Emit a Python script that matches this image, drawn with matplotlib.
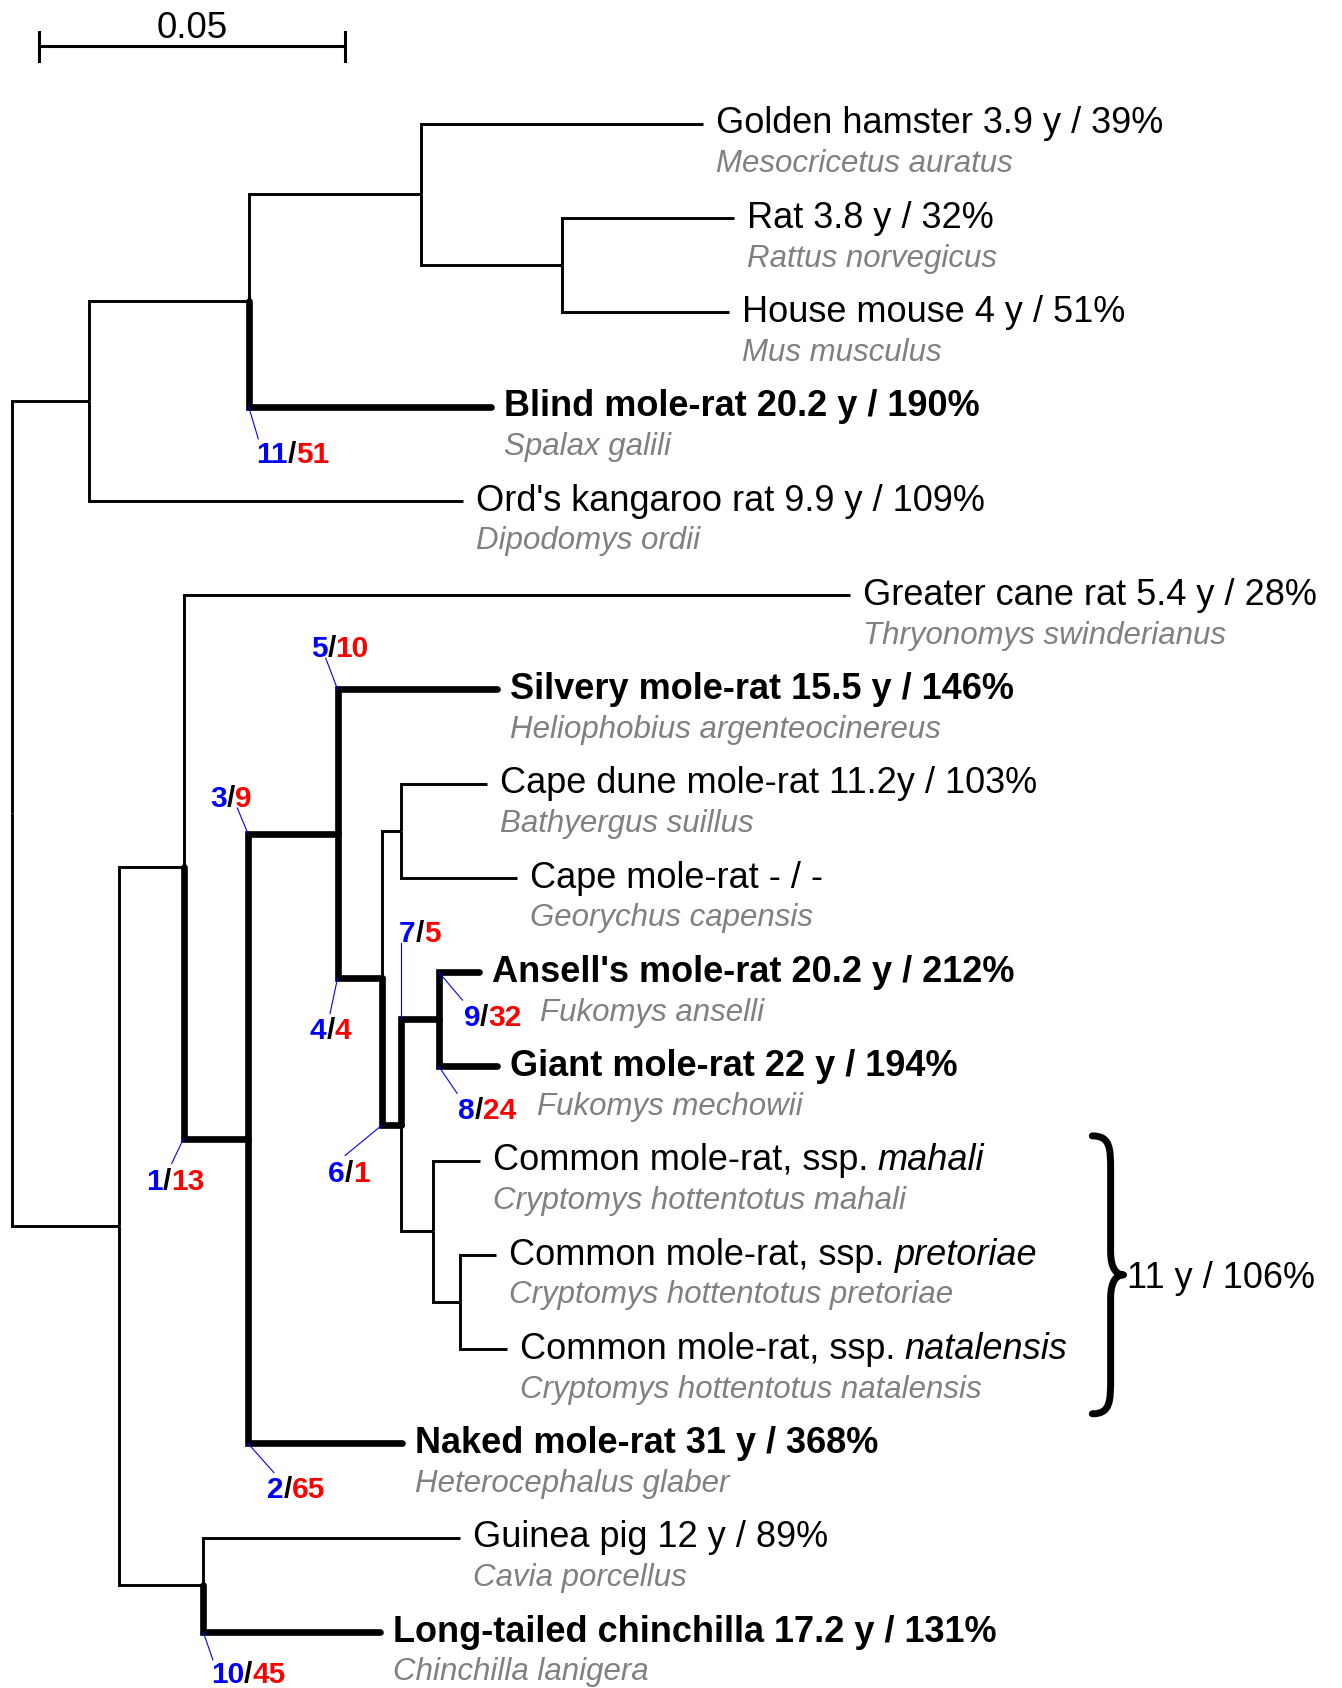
import matplotlib
matplotlib.use("Agg")
import matplotlib.pyplot as plt
from matplotlib.path import Path
from matplotlib.patches import PathPatch

plt.rcParams["font.family"] = ["Liberation Sans", "DejaVu Sans"]

# leaves, top to bottom
leaves = ["hamster", "rat", "mouse", "spalax", "dipodomys", "thryonomys",
          "heliophobius", "bathyergus", "georychus", "anselli", "mechowii",
          "mahali", "pretoriae", "natalensis", "heterocephalus", "cavia",
          "chinchilla"]
common = ["Golden hamster", "Rat", "House mouse", "Blind mole-rat",
          "Ord's kangaroo rat", "Greater cane rat", "Silvery mole-rat",
          "Cape dune mole-rat", "Cape mole-rat", "Ansell's mole-rat",
          "Giant mole-rat", "Common mole-rat, ssp.", "Common mole-rat, ssp.",
          "Common mole-rat, ssp.", "Naked mole-rat", "Guinea pig",
          "Long-tailed chinchilla"]
lifespan = ["3.9 y / 39%", "3.8 y / 32%", "4 y / 51%", "20.2 y / 190%",
            "9.9 y / 109%", "5.4 y / 28%", "15.5 y / 146%", "11.2y / 103%",
            "- / -", "20.2 y / 212%", "22 y / 194%", "", "", "",
            "31 y / 368%", "12 y / 89%", "17.2 y / 131%"]
latin = ["Mesocricetus auratus", "Rattus norvegicus", "Mus musculus",
         "Spalax galili", "Dipodomys ordii", "Thryonomys swinderianus",
         "Heliophobius argenteocinereus", "Bathyergus suillus",
         "Georychus capensis", "Fukomys anselli", "Fukomys mechowii",
         "Cryptomys hottentotus mahali", "Cryptomys hottentotus pretoriae",
         "Cryptomys hottentotus natalensis", "Heterocephalus glaber",
         "Cavia porcellus", "Chinchilla lanigera"]
ssp = {"mahali": "mahali", "pretoriae": "pretoriae", "natalensis": "natalensis"}
long_lived = ["spalax", "heliophobius", "anselli", "mechowii",
              "heterocephalus", "chinchilla"]

# tree: node -> parent, branch length (substitutions per site)
parent = {"A": "root", "B": "A", "C": "B", "hamster": "C", "D": "C",
          "rat": "D", "mouse": "D", "spalax": "B", "dipodomys": "A",
          "E": "root", "F": "E", "thryonomys": "F", "H": "F", "I": "H",
          "heliophobius": "I", "J": "I", "K": "J", "bathyergus": "K",
          "georychus": "K", "L": "J", "M": "L", "anselli": "M",
          "mechowii": "M", "N": "L", "mahali": "N", "O": "N",
          "pretoriae": "O", "natalensis": "O", "heterocephalus": "H",
          "G": "E", "cavia": "G", "chinchilla": "G"}
blen = {"A": 0.0125, "B": 0.0261, "C": 0.0281, "hamster": 0.0460,
        "D": 0.0230, "rat": 0.0281, "mouse": 0.0272, "spalax": 0.0395,
        "dipodomys": 0.0611, "E": 0.0175, "F": 0.0105, "thryonomys": 0.1086,
        "H": 0.0105, "I": 0.0146, "heliophobius": 0.0260, "J": 0.0072,
        "K": 0.0032, "bathyergus": 0.0139, "georychus": 0.0189, "L": 0.0032,
        "M": 0.0061, "anselli": 0.0065, "mechowii": 0.0095, "N": 0.0051,
        "mahali": 0.0077, "O": 0.0044, "pretoriae": 0.0060,
        "natalensis": 0.0077, "heterocephalus": 0.0251, "G": 0.0137,
        "cavia": 0.0418, "chinchilla": 0.0288}

# long-lived lineages (thick) and their blue / red counts
thick = long_lived + ["H", "I", "J", "L", "M"]
counts = {"spalax": (11, 51), "heliophobius": (5, 10), "I": (3, 9),
          "J": (4, 4), "M": (7, 5), "anselli": (9, 32), "mechowii": (8, 24),
          "L": (6, 1), "H": (1, 13), "heterocephalus": (2, 65),
          "chinchilla": (10, 45)}

group = ["mahali", "pretoriae", "natalensis"]
group_label = "11 y / 106%"
scale_len = 0.05

# layout: picture pixels per unit
PX = 5700.0
PY = 87.56
def dx(p):
    return p / PX
def dy(p):
    return p / PY

fig = plt.figure(figsize=(13.42, 16.88), dpi=100)
ax = fig.add_axes([0, 0, 1, 1])
ax.set_xlim(-11 / PX, 1236 / PX)
ax.set_ylim((1568 - 115) / PY, -115 / PY)
ax.axis("off")

children = {}
for n, p in parent.items():
    children.setdefault(p, []).append(n)

xpos = {"root": 0.0}
def set_x(n):
    for c in children.get(n, []):
        xpos[c] = xpos[n] + blen[c]
        set_x(c)
set_x("root")

ypos = {n: i for i, n in enumerate(leaves)}
def set_y(n):
    if n not in ypos:
        ys = [set_y(c) for c in children[n]]
        ypos[n] = (min(ys) + max(ys)) / 2
    return ypos[n]
set_y("root")

# branches
for n, p in parent.items():
    if n in thick:
        lw, cap = 4.8, "round"
    else:
        lw, cap = 2.1, "butt"
    ax.plot([xpos[p], xpos[p], xpos[n]], [ypos[p], ypos[n], ypos[n]],
            color="black", lw=lw, solid_capstyle=cap, solid_joinstyle="miter")

# leaf labels
sci_shift = {"anselli": 45, "mechowii": 25}
for i, n in enumerate(leaves):
    x0 = xpos[n] + dx(12)
    w = "bold" if n in long_lived else "normal"
    txt = common[i] + (" " + lifespan[i] if lifespan[i] else "")
    t = ax.text(x0, ypos[n] + dy(9), txt, fontsize=26, fontweight=w,
                va="baseline", ha="left")
    if n in ssp:
        ax.annotate(ssp[n], xy=(1, 0), xycoords=t, xytext=(7, 0),
                    textcoords="offset points", va="bottom", fontsize=26,
                    style="italic")
    ax.text(x0 + dx(sci_shift.get(n, 0)), ypos[n] + dy(45), latin[i],
            fontsize=22.5, style="italic", color="#808080", va="baseline")

# counts with leader lines: text offset, leader end (picture px)
count_pos = {"spalax": ((7, 52), (9, 30)),
             "heliophobius": ((-25, -30), (-11, -29)),
             "I": ((-35, -25), (-10, -24)),
             "J": ((-26, 57), (-7, 33)),
             "M": ((-2, -72), (0, -71)),
             "anselli": ((23, 50), (22, 26)),
             "mechowii": ((18, 49), (17, 25)),
             "L": ((-50, 53), (-34, 28)),
             "H": ((-35, 48), (-11, 23)),
             "heterocephalus": ((18, 51), (24, 27)),
             "chinchilla": ((7, 47), (9, 26))}
for n, (b, r) in counts.items():
    nx, ny = xpos[parent[n]], ypos[n]
    (tx, ty), (lx, ly) = count_pos[n]
    ax.plot([nx, nx + dx(lx)], [ny, ny + dy(ly)], color="blue", lw=0.8)
    t1 = ax.text(nx + dx(tx), ny + dy(ty), str(b), color="#0000ff",
                 fontsize=21.5, fontweight="bold", va="baseline")
    t2 = ax.annotate("/", xy=(1, 0), xycoords=t1, va="bottom", fontsize=21.5,
                     fontweight="bold", color="black")
    ax.annotate(str(r), xy=(1, 0), xycoords=t2, va="bottom", fontsize=21.5,
                fontweight="bold", color="#ff0000")

# brace for the Cryptomys subspecies
y_top = ypos[group[0]] - dy(23)
y_bot = ypos[group[-1]] + dy(60)
y_mid = (y_top + y_bot) / 2
bx = (1032 - 11) / PX
verts = [(bx - dx(17), y_top),
         (bx, y_top), (bx, y_top + dy(12)), (bx, y_top + dy(33)),
         (bx, y_mid - dy(22)),
         (bx, y_mid - dy(5)), (bx + dx(6), y_mid), (bx + dx(12), y_mid),
         (bx + dx(6), y_mid), (bx, y_mid + dy(5)), (bx, y_mid + dy(22)),
         (bx, y_bot - dy(33)),
         (bx, y_bot - dy(12)), (bx, y_bot), (bx - dx(17), y_bot)]
codes = [Path.MOVETO, Path.CURVE4, Path.CURVE4, Path.CURVE4, Path.LINETO,
         Path.CURVE4, Path.CURVE4, Path.CURVE4, Path.CURVE4, Path.CURVE4,
         Path.CURVE4, Path.LINETO, Path.CURVE4, Path.CURVE4, Path.CURVE4]
ax.add_patch(PathPatch(Path(verts, codes), fill=False, lw=5,
                       capstyle="round", joinstyle="round"))
ax.text(bx + dx(15), y_mid + dy(12), group_label, fontsize=26, va="baseline")

# scale bar
sx0 = (36 - 11) / PX
sy = (43 - 115) / PY
ax.plot([sx0, sx0 + scale_len], [sy, sy], color="black", lw=2.2)
for xs in (sx0, sx0 + scale_len):
    ax.plot([xs, xs], [sy - dy(13), sy + dy(14)], color="black", lw=2.2)
ax.text(sx0 + scale_len / 2, sy - dy(8), f"{scale_len:g}", fontsize=26.5,
        ha="center", va="baseline")

fig.savefig("out.png", dpi=100)
